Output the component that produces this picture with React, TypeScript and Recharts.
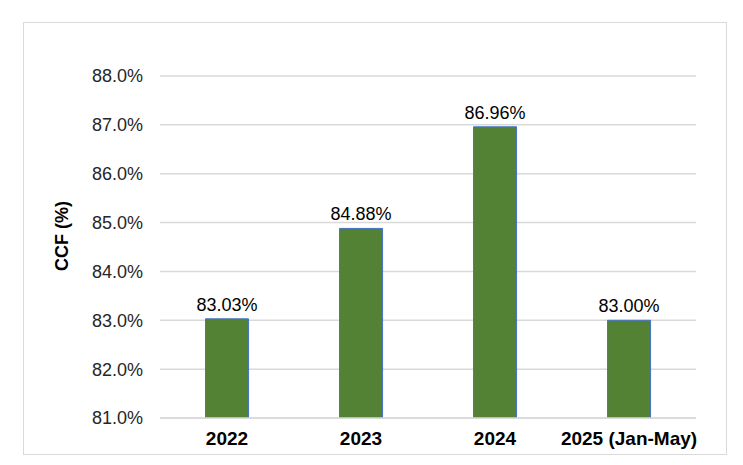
import React from "react";
import {
  BarChart,
  Bar,
  XAxis,
  YAxis,
  CartesianGrid,
  LabelList,
} from "recharts";

const years = ["2022", "2023", "2024", "2025 (Jan-May)"];
const ccfValues = [83.03, 84.88, 86.96, 83.0];
const yTicks = [81, 82, 83, 84, 85, 86, 87, 88];

const FONT = '"Liberation Sans", Arial, sans-serif';

export default function App() {
  const data = years.map((year, i) => ({ year, ccf: ccfValues[i] }));

  return (
    <div
      style={{
        position: "absolute",
        left: 0,
        top: 0,
        width: 743,
        height: 465,
        background: "#ffffff",
        fontFamily: FONT,
      }}
    >
      <div
        style={{
          position: "absolute",
          left: 23,
          top: 22,
          width: 702,
          height: 431,
          border: "1px solid #d9d9d9",
        }}
      />
      <div style={{ position: "absolute", left: 0, top: 0 }}>
        <BarChart
          width={743}
          height={465}
          data={data}
          margin={{ top: 76, right: 47, bottom: 17, left: 0 }}
          barCategoryGap="34%"
        >
          <CartesianGrid
            vertical={false}
            stroke="#d9d9d9"
            strokeWidth={1.5}
          />
          <XAxis
            dataKey="year"
            height={30}
            tickLine={false}
            tickSize={0}
            tickMargin={14}
            axisLine={{ stroke: "#d9d9d9", strokeWidth: 1.5 }}
            tick={{
              fill: "#000000",
              fontSize: 19,
              fontWeight: 700,
              fontFamily: FONT,
            }}
          />
          <YAxis
            width={160}
            domain={[81, 88]}
            ticks={yTicks}
            allowDataOverflow
            axisLine={false}
            tickLine={false}
            tickSize={6}
            tickMargin={11}
            tickFormatter={(v: number) => `${v.toFixed(1)}%`}
            tick={{ fill: "#262626", fontSize: 18, fontFamily: FONT }}
            label={(props: any) => {
              const vb = props.viewBox || { x: 0, y: 76, height: 342 };
              const cx = vb.x + 62;
              const cy = vb.y + vb.height / 2 - 11;
              return (
                <text
                  x={cx}
                  y={cy}
                  transform={`rotate(-90, ${cx}, ${cy})`}
                  textAnchor="middle"
                  dominantBaseline="central"
                  fontFamily={FONT}
                  fontSize={18}
                  fontWeight={700}
                  fill="#000000"
                >
                  CCF (%)
                </text>
              );
            }}
          />
          <Bar
            dataKey="ccf"
            fill="#548235"
            stroke="#4472c4"
            strokeWidth={1}
            isAnimationActive={false}
          >
            <LabelList
              dataKey="ccf"
              position="top"
              offset={8}
              formatter={(v: any) => `${Number(v).toFixed(2)}%`}
              style={{ fill: "#000000", fontSize: 18, fontFamily: FONT }}
            />
          </Bar>
        </BarChart>
      </div>
    </div>
  );
}
